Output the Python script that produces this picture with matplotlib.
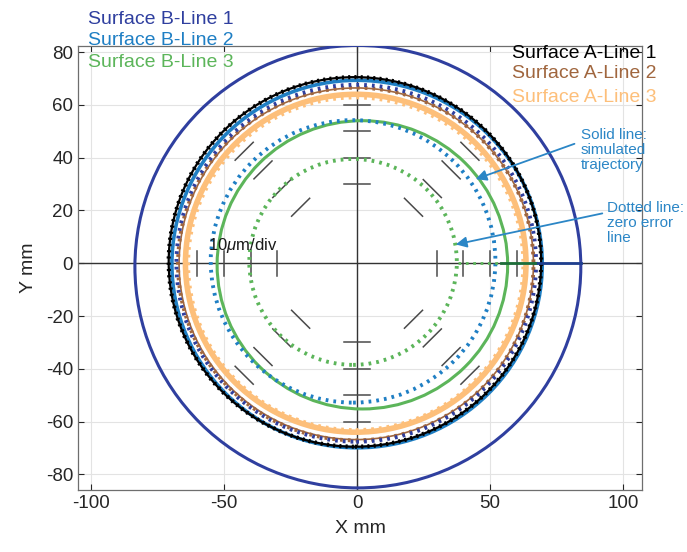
import matplotlib
matplotlib.use("Agg")
import matplotlib.pyplot as plt
import numpy as np
from matplotlib.patches import Circle

plt.rcParams["font.family"] = ["Liberation Sans", "DejaVu Sans"]
plt.rcParams["mathtext.fontset"] = "custom"
plt.rcParams["mathtext.it"] = "Liberation Sans:italic"
plt.rcParams["mathtext.rm"] = "Liberation Sans"
plt.rcParams["axes.unicode_minus"] = False

# --- data (mm) ---
SERIES = ["Surface B-Line 1", "Surface B-Line 2", "Surface B-Line 3",
          "Surface A-Line 1", "Surface A-Line 2", "Surface A-Line 3"]
COLORS = ["#2f3f9f", "#1f7fc4", "#5cb55a", "#000000", "#a0663e", "#fdbf7a"]

# simulated trajectory (solid): centre x, centre y, radius
sim_cx = [0.3, 0.0, 2.0, -0.8, -0.3, -0.5]
sim_cy = [-1.3, -0.3, -0.6, 0.5, -0.2, 0.0]
sim_r = [83.8, 69.6, 54.6, 70.0, 66.6, 64.0]

# zero error line (dotted): centre x, centre y, radius
zero_cx = [-0.3, -1.5, -1.5, -0.8, -0.5, -0.5]
zero_cy = [0.0, 0.7, 0.5, 0.5, -0.3, -0.2]
zero_r = [67.6, 53.5, 39.0, 70.0, 66.8, 63.0]

# lead-in segments along y = 0
lead_x0 = [67.0, 54.0, 38.0]
lead_x1 = [84.0, 67.0, 54.0]
lead_col = ["#1f3f8f", "#1d6e3a", "#5cb55a"]
lead_ls = ["-", "-", ":"]

# 10 um/div scale marks
mark_angles = [0, 45, 90, 135, 180, 225, 270, 315]
mark_radii = [30, 40, 50, 60]

xticks = [-100, -50, 0, 50, 100]
yticks = [-80, -60, -40, -20, 0, 20, 40, 60, 80]

DOT = (0, (0.7, 1.3))
ANN_COLOR = "#2b86c6"

fig = plt.figure(figsize=(6.87, 5.52), dpi=100)
ax = fig.add_axes([0.1135, 0.1123, 0.8210, 0.8044])
ax.set_xlim(-104.9, 107.1)
ax.set_ylim(-85.9, 82.3)

ax.set_xticks(xticks)
ax.set_yticks(yticks)
ax.grid(True, color="#e3e3e3", lw=0.8, zorder=0)
ax.set_axisbelow(True)
ax.tick_params(direction="in", top=True, right=True, labelsize=13.5,
               colors="#262626", length=4, width=0.8)
for sp in ax.spines.values():
    sp.set_color("#6e6e6e")
    sp.set_linewidth(0.9)

ax.axhline(0, color="#333333", lw=1.0, zorder=1)
ax.axvline(0, color="#333333", lw=1.0, zorder=1)

# scale marks
for ang in mark_angles:
    t = np.deg2rad(ang)
    for r in mark_radii:
        px, py = r * np.cos(t), r * np.sin(t)
        tx, ty = -np.sin(t) * 4.8, np.cos(t) * 4.8
        ax.plot([px - tx, px + tx], [py - ty, py + ty], color="#4a4a4a",
                lw=1.1, zorder=2)

# solid trajectories: orange band underneath, then the rest
order = [5, 4, 0, 2, 1, 3]
widths = {0: 2.2, 1: 2.6, 2: 2.2, 3: 1.6, 4: 1.2, 5: 4.0}
for i in order:
    ax.add_patch(Circle((sim_cx[i], sim_cy[i]), sim_r[i], fill=False,
                        ec=COLORS[i], lw=widths[i], zorder=3))
# zero error lines (dotted)
for i in order:
    if i == 3:
        continue
    ax.add_patch(Circle((zero_cx[i], zero_cy[i]), zero_r[i], fill=False,
                        ec=COLORS[i], lw=2.8, ls=DOT, zorder=4))
# marker bumps on A-Line 1
ax.add_patch(Circle((sim_cx[3], sim_cy[3]), sim_r[3], fill=False,
                    ec="#000000", lw=3.0, ls=(0, (0.5, 1.0)), zorder=5))

for x0, x1, c, ls in zip(lead_x0, lead_x1, lead_col, lead_ls):
    ax.plot([x0, x1], [0, 0], color=c, lw=2.0, ls=ls, zorder=5)

ax.text(-56, 5, r"10$\mu$m/div", fontsize=12, color="#1a1a1a", zorder=6)

# annotations
ax.annotate("", xy=(43.6, 31.5), xytext=(82.7, 45.6),
            arrowprops=dict(arrowstyle="-|>", color=ANN_COLOR, lw=1.3,
                            mutation_scale=16), annotation_clip=False, zorder=7)
ax.annotate("", xy=(36.1, 6.9), xytext=(93.2, 19.1),
            arrowprops=dict(arrowstyle="-|>", color=ANN_COLOR, lw=1.3,
                            mutation_scale=16), annotation_clip=False, zorder=7)
fig.text(581 / 687, 1 - 128 / 552, "Solid line:\nsimulated\ntrajectory",
         fontsize=11, color=ANN_COLOR, ha="left", va="top", linespacing=1.1)
fig.text(607 / 687, 1 - 201 / 552, "Dotted line:\nzero error\nline",
         fontsize=11, color=ANN_COLOR, ha="left", va="top", linespacing=1.1)

# series labels
left_y = [24, 45, 67]
for k in range(3):
    fig.text(88 / 687, 1 - left_y[k] / 552, SERIES[k], fontsize=14,
             color=COLORS[k], ha="left", va="baseline")
right_y = [58, 78, 102]
for k in range(3):
    fig.text(512 / 687, 1 - right_y[k] / 552, SERIES[3 + k], fontsize=14,
             color=COLORS[3 + k], ha="left", va="baseline")

ax.set_xlabel("X mm", fontsize=14, color="#262626", labelpad=6)
ax.set_ylabel("Y mm", fontsize=14, color="#262626", labelpad=6)

fig.savefig("out.png", dpi=100)
